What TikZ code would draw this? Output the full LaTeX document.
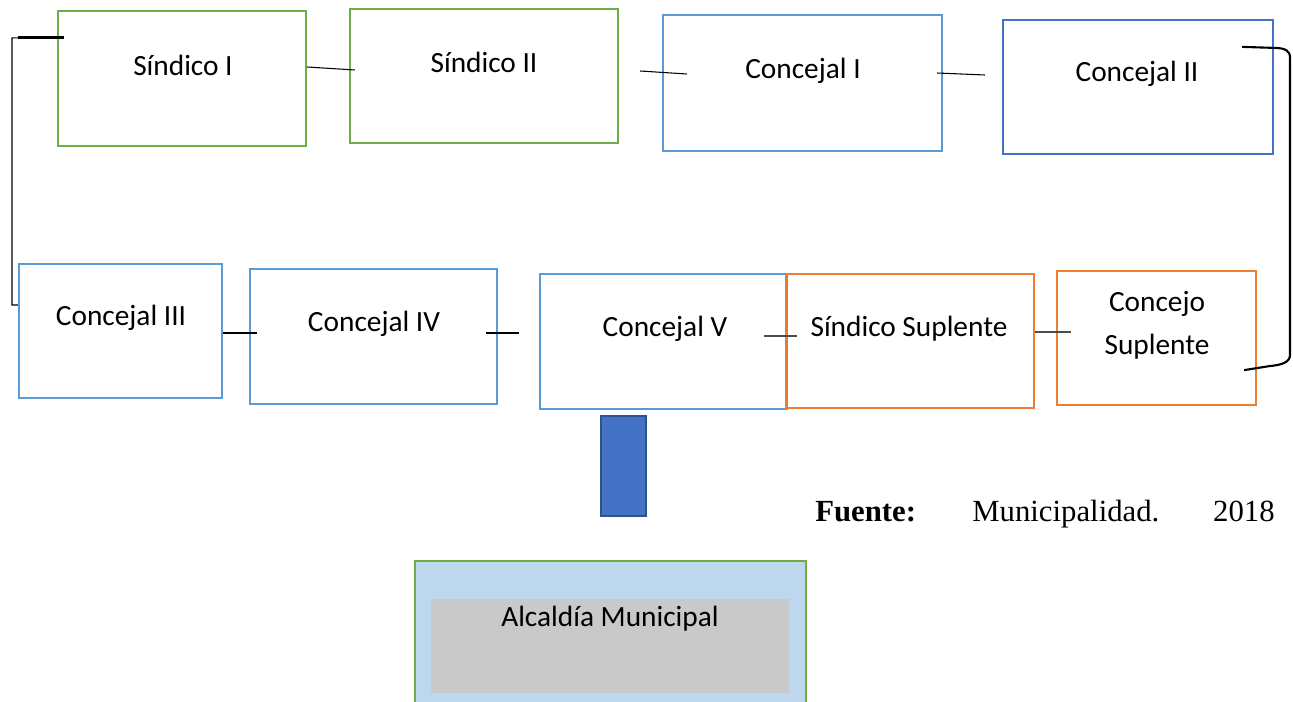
\documentclass[tikz,border=0pt]{standalone}
\usepackage{fontspec}
\setmainfont{Carlito}
\newfontfamily\fuentefont{Liberation Serif}
\usepackage{tikz}
\usetikzlibrary{calc}
\definecolor{verdeof}{HTML}{70AD47}
\definecolor{azulclaro}{HTML}{5B9BD5}
\definecolor{azulof}{HTML}{4472C4}
\definecolor{azulborde}{HTML}{2F528F}
\definecolor{naranjaof}{HTML}{ED7D31}
\definecolor{celeste}{HTML}{BDD7EE}
\definecolor{grisof}{HTML}{C9C9C9}

\begin{document}
\begin{tikzpicture}[x=0.02cm, y=-0.02cm,
    caja/.style={draw=#1, line width=1.3pt, inner sep=0pt},
    texto/.style={font=\fontsize{16.7}{24.4}\selectfont, inner sep=0pt, align=center},
    linea/.style={draw=black, line width=0.6pt},
    llave/.style={draw=black, line width=1.2pt}]
    \useasboundingbox (0,0) rectangle (1293,702);
    \node[caja=verdeof, minimum width=4.96cm, minimum height=2.7cm] (sin1) at (182,78.5) {};
    \node[caja=verdeof, minimum width=5.36cm, minimum height=2.68cm] (sin2) at (484,76) {};
    \node[caja=azulclaro, minimum width=5.58cm, minimum height=2.72cm] (con1) at (802.5,83) {};
    \node[caja=azulof, minimum width=5.4cm, minimum height=2.68cm] (con2) at (1138,87) {};
    \node[caja=azulclaro, minimum width=4.06cm, minimum height=2.68cm] (con3) at (120.5,331) {};
    \node[caja=azulclaro, minimum width=4.94cm, minimum height=2.7cm] (con4) at (373.5,336.5) {};
    \node[caja=azulclaro, minimum width=4.94cm, minimum height=2.7cm] (con5) at (663.5,341.5) {};
    \node[caja=naranjaof, minimum width=4.96cm, minimum height=2.68cm] (sinsup) at (910,341) {};
    \node[caja=naranjaof, minimum width=3.98cm, minimum height=2.68cm] (cjosup) at (1156.5,338) {};

    \node[texto] (tsin1) at (183,65) {Síndico I};
    \node[texto] (tsin2) at (484,62) {Síndico II};
    \node[texto] (tcon1) at (803,71) {Concejal I};
    \node[texto] (tcon2) at (1137,74) {Concejal II};
    \node[texto] (tcon3) at (121,318) {Concejal III};
    \node[texto] (tcon4) at (374,324) {Concejal IV};
    \node[texto] (tcon5) at (665,329) {Concejal V};
    \node[texto] (tsinsup) at (909,329) {Síndico Suplente};
    \node[texto] (tcjosup) at (1157,325) {Concejo\\Suplente};

    \draw[linea] ($(sin1.east)+(0,-11.5)$) -- ($(sin2.west)+(6,-6)$);
    \draw[linea] ($(sin2.east)+(21,-5)$) -- ($(con1.west)+(25,-9)$);
    \draw[linea] ($(con1.east)+(-6,-10)$) -- ($(con2.west)+(-17,-12)$);
    \draw[linea] ($(con3.east)+(0,2)$) -- ($(con4.west)+(8,-3.5)$);
    \draw[linea] ($(con4.east)+(-12,-3.5)$) -- ($(con5.west)+(-20,-8.5)$);
    \draw[linea, draw=black!70] ($(con5.east)+(-24,-5.5)$) -- ($(sinsup.west)+(12,-5)$);
    \draw[linea, draw=black!70] ($(sinsup.east)+(0,-9)$) -- ($(cjosup.west)+(15,-6)$);

    \coordinate (esqA) at (12,38);
    \coordinate (esqB) at (12,305);
    \draw[llave, line width=1.7pt] ($(sin1.north west)+(7,28)$) -- ($(sin1.north west)+(-39,28)$);
    \draw[linea] ($(sin1.north west)+(-39,28)$) -- (esqA) -- (esqB) -- (con3.west |- esqB);
    \draw[llave] ($(con2.north east)+(-32,28)$) -- ++(31,1)
        .. controls +(13,0) and +(0,-7) .. (1290,58) -- (1290,355)
        .. controls +(0,7) and +(12,-1) .. (1270,366)
        -- ($(cjosup.south east)+(-13,-36)$);

    \node[caja=azulborde, fill=azulof, minimum width=0.9cm, minimum height=2cm] (barra) at (623.5,466) {};

    \node[anchor=base west, inner sep=0pt, font=\fuentefont\fontsize{17.5}{20}\selectfont\bfseries] (fuente) at (815,521) {Fuente:};
    \node[anchor=base west, inner sep=0pt, font=\fuentefont\fontsize{17.5}{20}\selectfont] (muni) at (972,521) {Municipalidad.};
    \node[anchor=base east, inner sep=0pt, font=\fuentefont\fontsize{17.5}{20}\selectfont] (anio) at (1275,521) {2018};

    \node[caja=verdeof, fill=celeste, minimum width=7.82cm, minimum height=3.18cm] (alcaldia) at (610.5,640.5) {};
    \node[fill=grisof, inner sep=0pt, minimum width=7.16cm, minimum height=1.88cm] (interior) at (610,646) {};
    \node[texto] (talcaldia) at (610,619) {Alcaldía Municipal};
\end{tikzpicture}
\end{document}
